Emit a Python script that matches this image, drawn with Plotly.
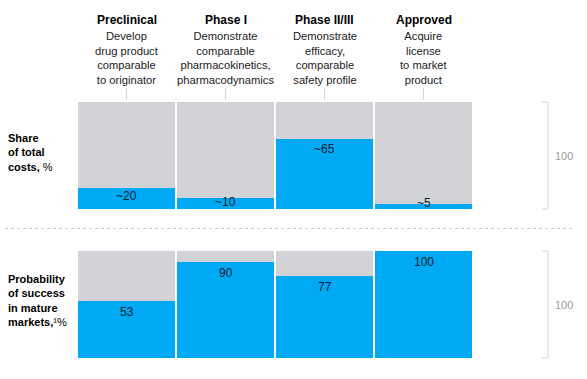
import plotly.graph_objects as go

# ---- data ----
phases = ["Preclinical", "Phase I", "Phase II/III", "Approved"]
descriptions = [
    ["Develop", "drug product", "comparable", "to originator"],
    ["Demonstrate", "comparable", "pharmacokinetics,", "pharmacodynamics"],
    ["Demonstrate", "efficacy,", "comparable", "safety profile"],
    ["Acquire", "license", "to market", "product"],
]
cost_share = [20, 10, 65, 5]
cost_labels = ["~20", "~10", "~65", "~5"]
success_prob = [53, 90, 77, 100]
success_labels = ["53", "90", "77", "100"]
total = [100, 100, 100, 100]
scale_label = "100"

# ---- style ----
W, H = 587, 379
BLUE = "#00A9F4"
GRAY = "#D1D3D6"
NAVY = "#051C2C"
LINE = "#D6D6D6"
FONT = "Liberation Sans, Arial, sans-serif"

def py(px):  # pixel row -> paper y
    return 1 - px / H

def px_x(px):
    return px / W

x = list(range(len(phases)))
fig = go.Figure()
for yax, vals in (("y", cost_share), ("y2", success_prob)):
    fig.add_trace(go.Bar(x=x, y=total, yaxis=yax, marker=dict(color=GRAY, line=dict(width=0)),
                         width=0.98, hoverinfo="skip", showlegend=False))
    fig.add_trace(go.Bar(x=x, y=vals, yaxis=yax, marker=dict(color=BLUE, line=dict(width=0)),
                         width=0.98, hoverinfo="skip", showlegend=False))

top_dom = [py(209), py(102)]
bot_dom = [py(358), py(251)]
fig.update_layout(
    width=W, height=H, margin=dict(l=0, r=0, t=0, b=0),
    paper_bgcolor="white", plot_bgcolor="white",
    barmode="overlay", bargap=0,
    font=dict(family=FONT, color="#000000"),
    xaxis=dict(domain=[px_x(77), px_x(473)], range=[-0.5, 3.5], visible=False, fixedrange=True),
    yaxis=dict(domain=top_dom, range=[0, 100], visible=False, fixedrange=True),
    yaxis2=dict(domain=bot_dom, range=[0, 100], visible=False, fixedrange=True),
)

ann = []
# headers
for i, (ph, desc) in enumerate(zip(phases, descriptions)):
    ann.append(dict(x=i, xref="x", y=py(20), yref="paper", text=f"<b>{ph}</b>",
                    showarrow=False, xanchor="center", yanchor="middle",
                    font=dict(size=12, color="#000")))
    ann.append(dict(x=i, xref="x", y=py(58), yref="paper", text="<br>".join(desc),
                    showarrow=False, xanchor="center", yanchor="middle", align="center",
                    font=dict(size=11.2, color="#1a1a1a")))

# value labels
cost_shift = [-8, -4, -10, 1]
succ_shift = [-11, -11, -11, -11]
for i, (v, t, s) in enumerate(zip(cost_share, cost_labels, cost_shift)):
    ann.append(dict(x=i, y=v, xref="x", yref="y", text=t, showarrow=False,
                    yanchor="middle", yshift=s, font=dict(size=12, color=NAVY)))
for i, (v, t, s) in enumerate(zip(success_prob, success_labels, succ_shift)):
    ann.append(dict(x=i, y=v, xref="x", yref="y2", text=t, showarrow=False,
                    yanchor="middle", yshift=s, font=dict(size=12, color=NAVY)))

# row labels
ann.append(dict(x=px_x(6), xref="paper", y=py(152), yref="paper", xanchor="left", yanchor="middle",
                align="left", showarrow=False, text="<b>Share<br>of total<br>costs,</b> %",
                font=dict(size=11, color="#000")))
ann.append(dict(x=px_x(6), xref="paper", y=py(300), yref="paper", xanchor="left", yanchor="middle",
                align="left", showarrow=False, text="<b>Probability<br>of success<br>in mature<br>markets,</b>¹%",
                font=dict(size=11, color="#000")))

# scale labels
for dom in (top_dom, bot_dom):
    ann.append(dict(x=px_x(553), xref="paper", y=(dom[0] + dom[1]) / 2, yref="paper",
                    xanchor="left", yanchor="middle", showarrow=False, text=scale_label,
                    font=dict(size=11, color="#999999")))

shapes = []
# brackets
for dom in (top_dom, bot_dom):
    shapes.append(dict(type="line", xref="paper", yref="paper", x0=px_x(548), x1=px_x(548),
                       y0=dom[0], y1=dom[1], line=dict(color=LINE, width=1)))
    for yy in dom:
        shapes.append(dict(type="line", xref="paper", yref="paper", x0=px_x(542), x1=px_x(548),
                           y0=yy, y1=yy, line=dict(color=LINE, width=1)))
# connector lines
for i in x:
    shapes.append(dict(type="line", xref="x", yref="paper", x0=i, x1=i, y0=py(88), y1=py(100),
                       line=dict(color=LINE, width=1)))
# separator
shapes.append(dict(type="line", xref="paper", yref="paper", x0=px_x(5), x1=px_x(573),
                   y0=py(228.5), y1=py(228.5), line=dict(color="#C8C8C8", width=1, dash="dot")))

fig.update_layout(annotations=ann, shapes=shapes)
fig.write_html("out.html", config={"displayModeBar": False},
               post_script="document.body.style.margin='0';document.body.style.overflow='hidden';")
